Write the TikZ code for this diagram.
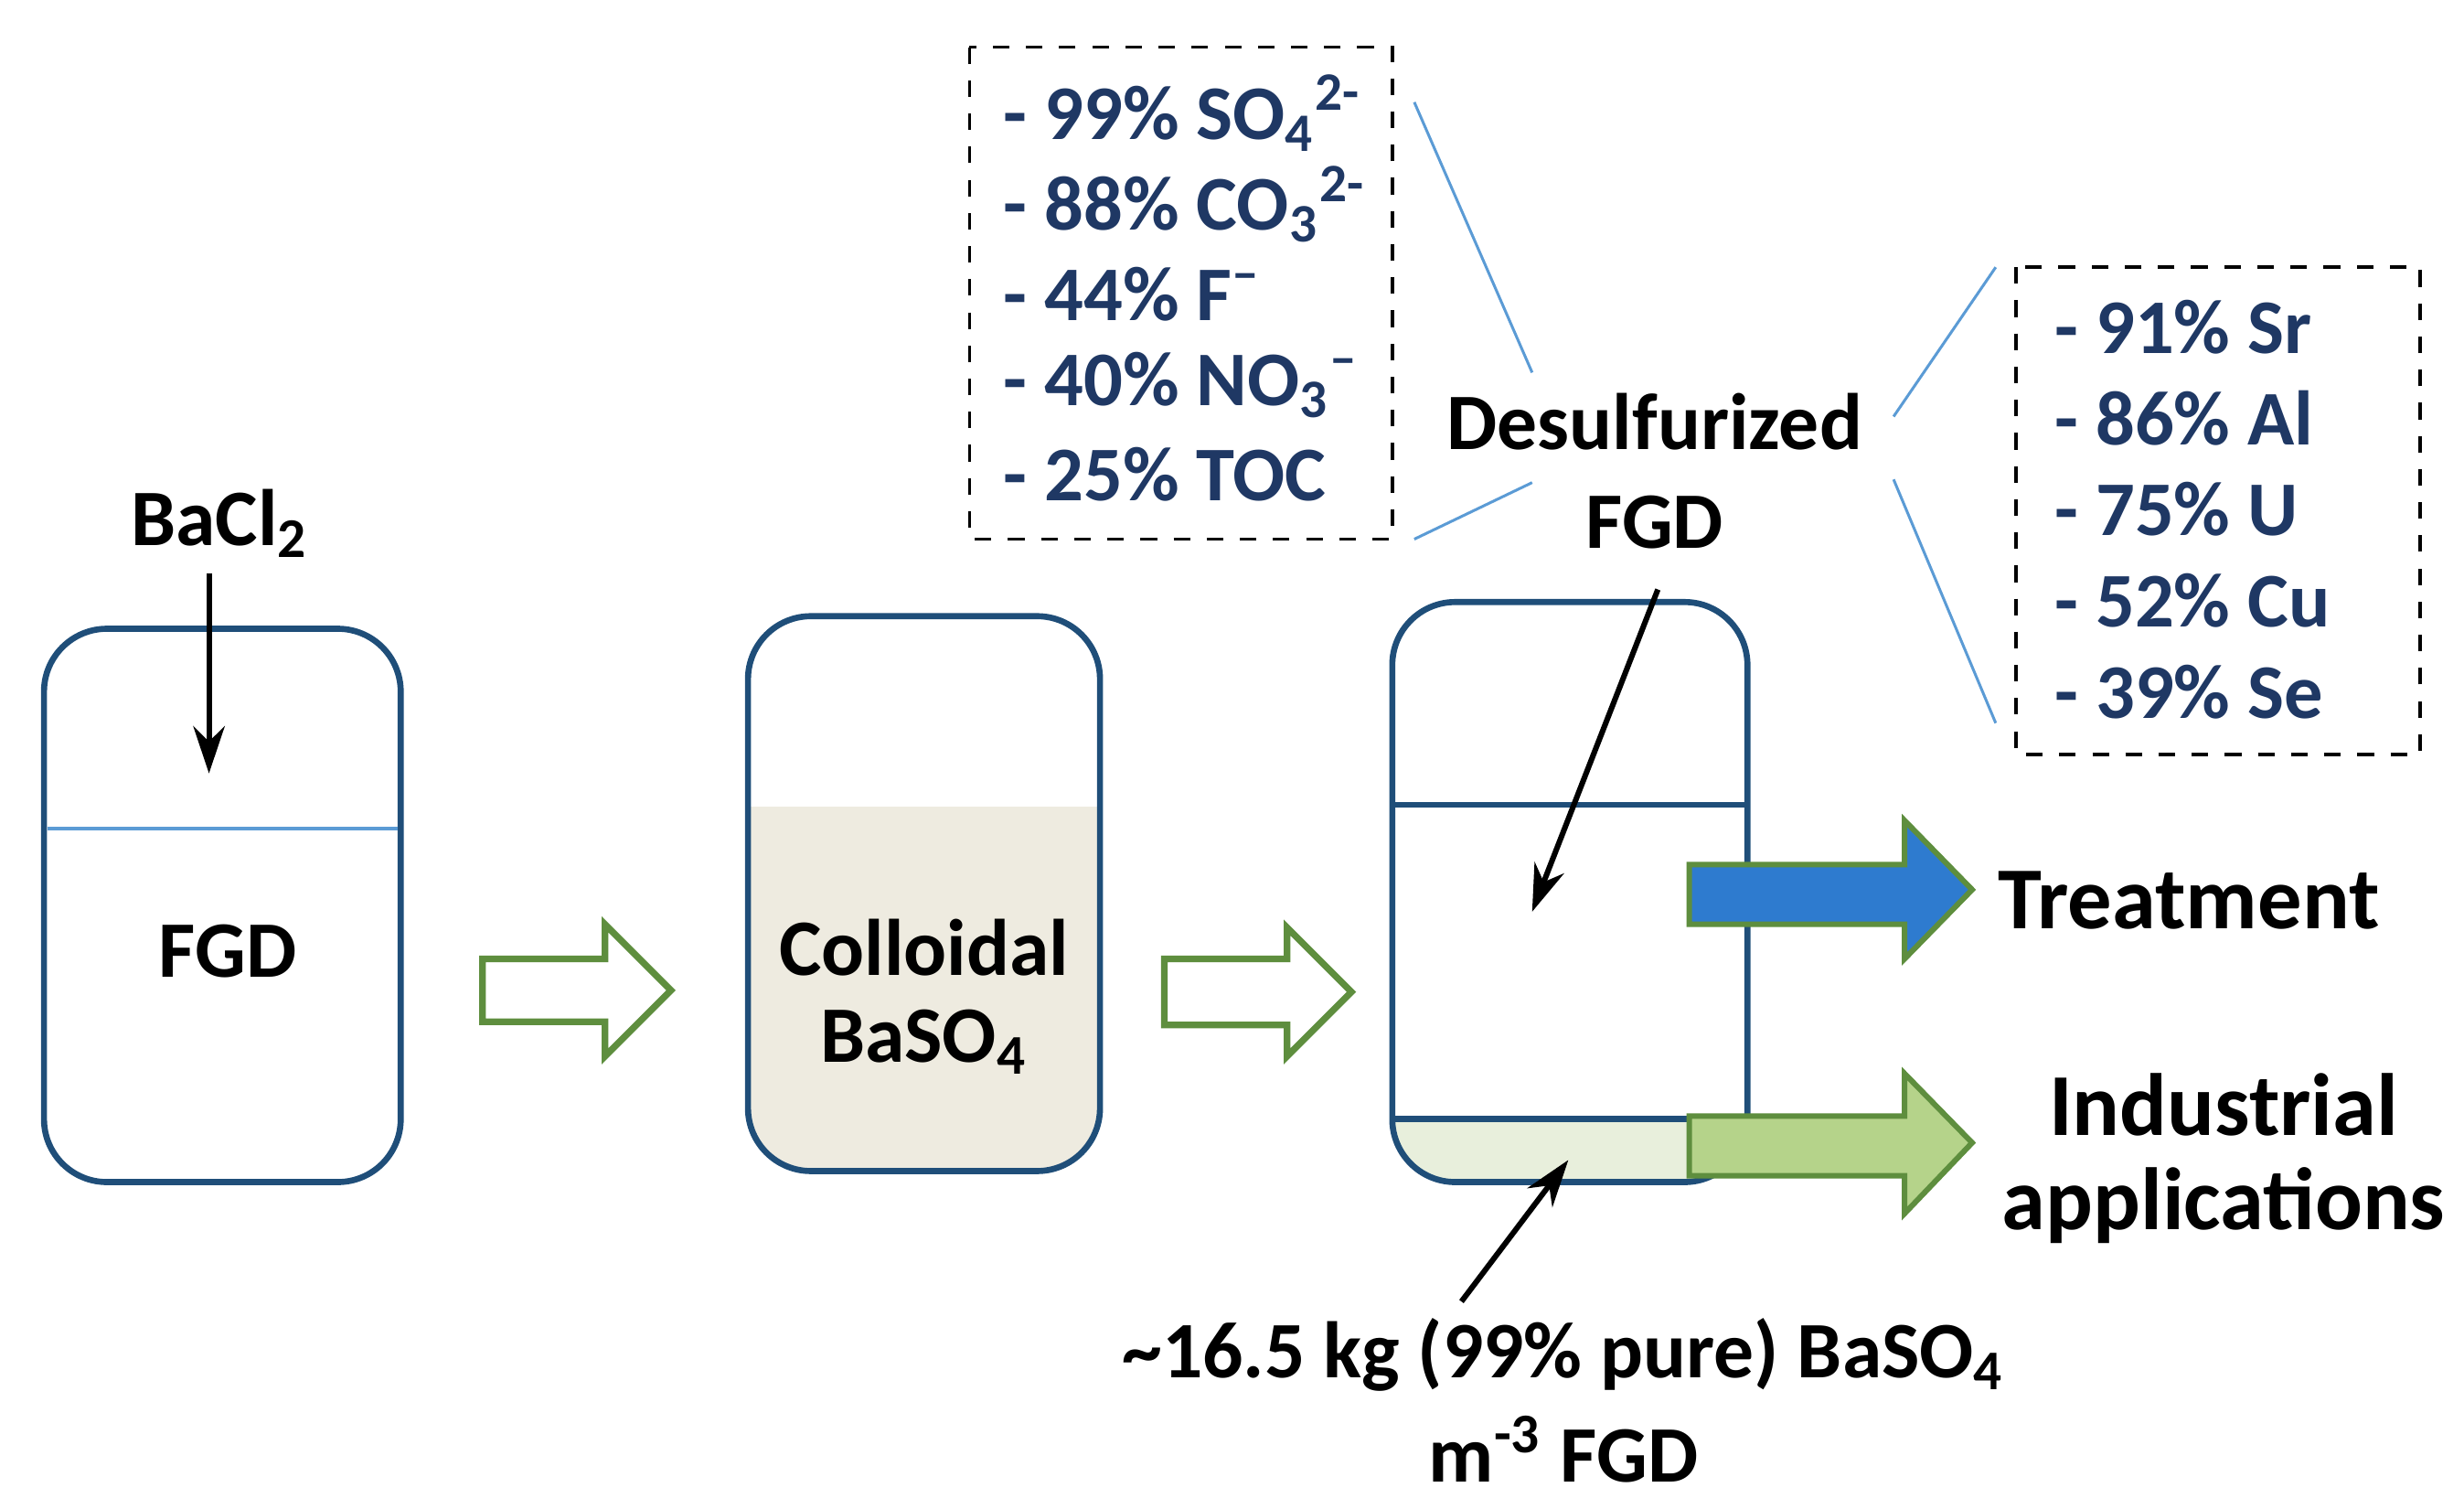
\documentclass[tikz,border=0pt]{standalone}
\usepackage{fontspec}
\setmainfont{Carlito}
\usetikzlibrary{arrows.meta}
\newcommand{\sbs}[1]{\textsubscript{#1}}
\newcommand{\sps}[1]{\textsuperscript{#1}}
\begin{document}
\begin{tikzpicture}[x=0.1mm,y=-0.1mm,
 tank/.style={draw=tankc,line width=1.1pt,rounded corners=4mm},
 hollow/.style={draw=grn,line width=1.2pt,fill=white},
 lab/.style={font=\fontsize{14.5}{17}\selectfont\bfseries},
 big/.style={font=\fontsize{16}{19}\selectfont\bfseries},
 blab/.style={font=\fontsize{14}{17}\selectfont\bfseries,text=navy,anchor=west},
 conn/.style={draw=lblue,line width=0.5pt},
 arr/.style={-{Stealth[length=3mm,width=2mm]},line width=1pt}]
\definecolor{tankc}{HTML}{1F4E79}
\definecolor{grn}{HTML}{5E8E3E}
\definecolor{navy}{HTML}{1F3864}
\definecolor{lblue}{HTML}{5B9BD5}
\definecolor{beige}{HTML}{EEEBE0}
\definecolor{lgrn}{HTML}{E8EFDC}
\definecolor{blue}{HTML}{2E7BCF}
\definecolor{garr}{HTML}{B5D38A}
\useasboundingbox (0,0) rectangle (1568,960);
% tank 1
\node[tank,minimum width=22.7mm,minimum height=35.2mm] (t1) at (141.5,576) {};
\draw[lblue,line width=0.6pt] (30,527) -- (253,527);
\node[lab] (f1) at (145,605) {FGD};
\node[lab] (ba) at (140,333) {BaCl\sbs{2}};
\coordinate (a1) at (133,492);
\draw[arr] (133,365) -- (a1);
% hollow arrows
\draw[hollow] (307,610)--(385,610)--(385,588)--(427,630)--(385,672)--(385,650)--(307,650)--cycle;
\draw[hollow] (741,610)--(819,610)--(819,590)--(860,631)--(819,672)--(819,652)--(741,652)--cycle;
% tank 2
\begin{scope}
\clip[rounded corners=4mm] (476,392) rectangle (700,745);
\fill[beige] (476,513) rectangle (700,745);
\end{scope}
\node[tank,minimum width=22.4mm,minimum height=35.3mm] (t2) at (588,568.5) {};
\node[lab] (c1) at (588,603) {Colloidal};
\node[lab] (c2) at (588,663) {BaSO\sbs{4}};
% tank 3
\begin{scope}
\clip[rounded corners=4mm] (886,383) rectangle (1112,752);
\fill[lgrn] (886,712) rectangle (1112,752);
\end{scope}
\node[tank,minimum width=22.6mm,minimum height=36.9mm] (t3) at (999,567.5) {};
\draw[tankc,line width=1.1pt] (886,512) -- (1112,512) (886,712) -- (1112,712);
% colored arrows
\draw[grn,line width=1pt,fill=blue] (1075,550)--(1212,550)--(1212,522)--(1255,566)--(1212,610)--(1212,588)--(1075,588)--cycle;
\draw[grn,line width=1pt,fill=garr] (1075,710)--(1212,710)--(1212,683)--(1255,727)--(1212,772)--(1212,748)--(1075,748)--cycle;
\node[big] (tr) at (1393,573) {Treatment};
\node[big] (in) at (1415,703) {Industrial};
\node[big] (ap) at (1415,767) {applications};
% desulfurized
\node[lab] (d1) at (1053,268) {Desulfurized};
\node[lab] (d2) at (1053,332) {FGD};
\coordinate (a2) at (975,580);
\draw[arr] (1055,375) -- (a2);
\node[lab] (p1) at (995,862) {\textasciitilde16.5 kg (99\% pure) BaSO\sbs{4}};
\node[lab] (p2) at (995,922) {m\sps{-3} FGD};
\coordinate (a3) at (998,738);
\draw[arr] (930,828) -- (a3);
% boxes
\draw[dashed,line width=0.6pt] (617,30) rectangle (886,343);
\node[blab] (b1) at (626,72) {- 99\% SO\sbs{4}\sps{2-}};
\node[blab] (b2) at (626,130) {- 88\% CO\sbs{3}\sps{2-}};
\node[blab] (b3) at (626,187) {- 44\% F\sps{--}};
\node[blab] (b4) at (626,245) {- 40\% NO\sbs{3}\sps{--}};
\node[blab] (b5) at (626,302) {- 25\% TOC};
\draw[dashed,line width=0.6pt] (1283,170) rectangle (1540,480);
\node[blab] (e1) at (1295,208) {- 91\% Sr};
\node[blab] (e2) at (1295,266) {- 86\% Al};
\node[blab] (e3) at (1295,324) {- 75\% U};
\node[blab] (e4) at (1295,382) {- 52\% Cu};
\node[blab] (e5) at (1295,440) {- 39\% Se};
\draw[conn] (900,65)--(975,237) (900,343)--(975,307);
\draw[conn] (1205,265)--(1270,170) (1205,305)--(1270,460);
\end{tikzpicture}
\end{document}
